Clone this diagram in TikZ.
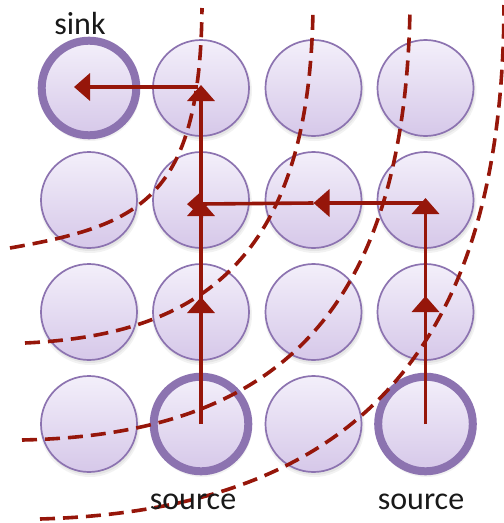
\documentclass[tikz,border=0pt]{standalone}
\usepackage{fontspec}
\setmainfont{Carlito}
\usetikzlibrary{arrows.meta}
\definecolor{arrowred}{RGB}{150,22,10}
\definecolor{ringc}{RGB}{140,115,176}
\definecolor{topc}{RGB}{243,239,250}
\definecolor{botc}{RGB}{214,200,233}
\begin{document}
\begin{tikzpicture}[x=1pt,y=-1pt,
  cell/.style={circle, minimum size=96pt, inner sep=0pt, draw=ringc, line width=1.7pt, top color=topc, bottom color=botc},
  term/.style={cell, line width=8pt, minimum size=94.6pt},
  arr/.style={draw=arrowred, line width=3.6pt, -{Triangle[length=16pt,width=27pt]}},
  cut/.style={draw=arrowred, line width=3.6pt, dash pattern=on 15pt off 8pt},
  lab/.style={anchor=base, inner sep=0pt, font=\fontsize{32}{36}\selectfont, text=black!90}]
\useasboundingbox (0,0) rectangle (504,523);
% shadows
\foreach \x in {89,201,313.5,425.5}
  \foreach \y in {88,200,312,424} {
    \fill[black, opacity=0.05] (\x+1,\y+3) circle (50);
    \fill[black, opacity=0.06] (\x+1,\y+2.5) circle (48.5);
  }
% cells
\foreach \c/\x in {1/89,2/201,3/313.5,4/425.5}
  \foreach \r/\y in {1/88,2/200,3/312,4/424}
    \node[cell] (c\c\r) at (\x,\y) {};
\node[term] (c11) at (89,88) {};
\node[term] (c24) at (201,424) {};
\node[term] (c44) at (425.5,424) {};
% cuts
\draw[cut] (10,248) .. controls (140,225) and (200,200) .. (202,8);
\draw[cut] (25,343) .. controls (200,335) and (310,260) .. (313,8);
\draw[cut] (22,440) .. controls (270,435) and (405,320) .. (410,8);
\draw[cut] (40,519) .. controls (350,510) and (503,355) .. (504,5);
% flows
\draw[arr, shorten >=-15pt] (c24.center) -- (c23.center);
\draw[arr] (c23.center) -- (c22.center);
\draw[arr, shorten >=-3pt] (c22.center) -- (c21.center);
\draw[arr, shorten >=-15pt] ([xshift=-3pt,yshift=1pt]c21.center) -- ([yshift=1pt]c11.center);
\draw[arr, shorten >=-16pt] (c44.center) -- (c43.center);
\draw[arr, shorten >=-2pt] (c43.center) -- (c42.center);
\draw[arr] ([yshift=-3pt]c42.center) -- ([yshift=-3pt]c32.center);
\draw[arr, shorten >=-14pt] ([yshift=-3pt]c32.center) -- ([yshift=-4pt]c22.center);
% labels
\node[lab] (sink) at (80,34) {sink};
\node[lab] (src1) at (193,509) {source};
\node[lab] (src2) at (421,509) {source};
\end{tikzpicture}
\end{document}
